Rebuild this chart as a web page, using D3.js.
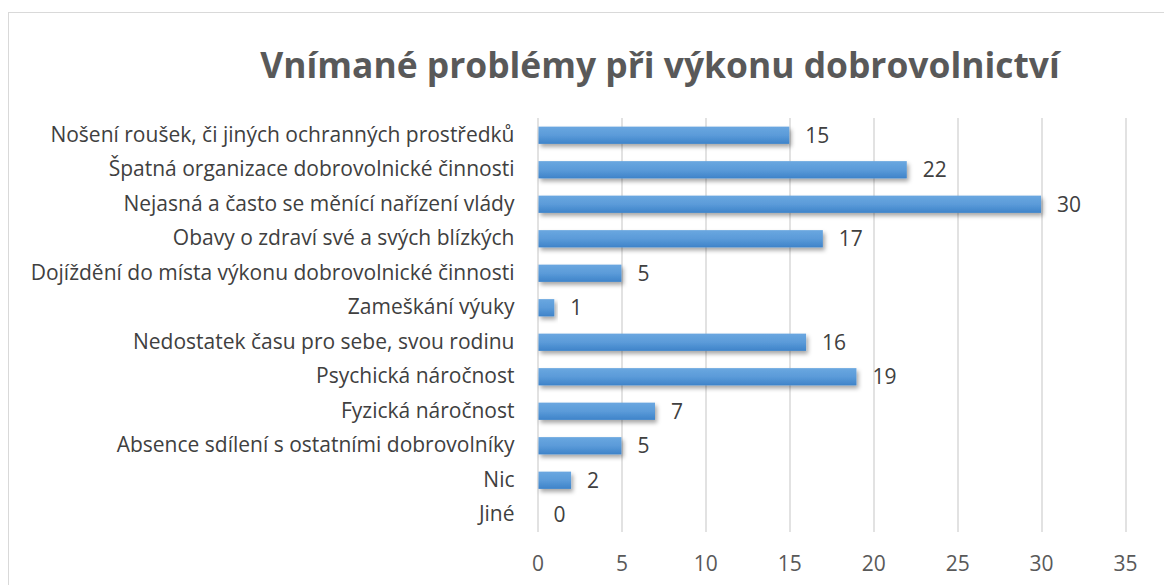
<!DOCTYPE html>
<html>
<head>
<meta charset="utf-8">
<script src="https://cdn.jsdelivr.net/npm/d3@7"></script>
<style>
  body { margin: 0; background: #fff; }
  text { font-family: "Open Sans", sans-serif; fill: #404040; }
</style>
</head>
<body>
<div id="chart"></div>
<script>
var categories = [
    "Nošení roušek, či jiných ochranných prostředků",
    "Špatná organizace dobrovolnické činnosti",
    "Nejasná a často se měnící nařízení vlády",
    "Obavy o zdraví své a svých blízkých",
    "Dojíždění do místa výkonu dobrovolnické činnosti",
    "Zameškání výuky",
    "Nedostatek času pro sebe, svou rodinu",
    "Psychická náročnost",
    "Fyzická náročnost",
    "Absence sdílení s ostatními dobrovolníky",
    "Nic",
    "Jiné"
];
var values = [15, 22, 30, 17, 5, 1, 16, 19, 7, 5, 2, 0];
var xTicks = [0, 5, 10, 15, 20, 25, 30, 35];
var title = "Vnímané problémy při výkonu dobrovolnictví";

var W = 1164, H = 585;
var margin = { top: 118, right: 39, bottom: 53, left: 537.5 },
    width = W - margin.left - margin.right,
    height = H - margin.top - margin.bottom;

var svg = d3.select("#chart").append("svg")
    .attr("width", W)
    .attr("height", H);

var defs = svg.append("defs");
var grad = defs.append("linearGradient")
    .attr("id", "barGrad")
    .attr("x1", 0).attr("y1", 0).attr("x2", 0).attr("y2", 1);
grad.append("stop").attr("offset", "0%").attr("stop-color", "#6aa7e0");
grad.append("stop").attr("offset", "50%").attr("stop-color", "#5b9bd9");
grad.append("stop").attr("offset", "100%").attr("stop-color", "#3e83c9");

var shadow = defs.append("filter")
    .attr("id", "shadow")
    .attr("x", "-10%").attr("y", "-30%")
    .attr("width", "130%").attr("height", "190%");
shadow.append("feDropShadow")
    .attr("dx", 2).attr("dy", 3)
    .attr("stdDeviation", 2.2)
    .attr("flood-color", "#000")
    .attr("flood-opacity", 0.35);

// chart frame
svg.append("rect")
    .attr("x", 8.5).attr("y", 12.5)
    .attr("width", W + 10).attr("height", H + 10)
    .attr("fill", "none")
    .attr("stroke", "#d9d9d9");

svg.append("text")
    .attr("x", 660)
    .attr("y", 78)
    .attr("text-anchor", "middle")
    .attr("font-size", 35.4)
    .attr("font-weight", "bold")
    .style("fill", "#595959")
    .text(title);

var g = svg.append("g")
    .attr("transform", "translate(" + margin.left + "," + margin.top + ")");

var x = d3.scaleLinear().domain([0, 35]).range([0, width]);
var y = d3.scaleBand().domain(categories).range([0, height]).paddingInner(0.5).paddingOuter(0.25);

// gridlines
g.append("g")
    .selectAll("line")
    .data(xTicks)
    .enter().append("line")
    .attr("x1", function (d) { return Math.round(x(d)) + 0.5; })
    .attr("x2", function (d) { return Math.round(x(d)) + 0.5; })
    .attr("y1", 0)
    .attr("y2", height)
    .attr("stroke", "#d9d9d9")
    .attr("stroke-width", 1.5);

// x axis labels
var xAxis = g.append("g")
    .attr("transform", "translate(0," + height + ")")
    .call(d3.axisBottom(x).tickValues(xTicks).tickSize(0).tickPadding(24));
xAxis.select(".domain").remove();
xAxis.selectAll("text")
    .style("font-size", "21px")
    .style("font-family", "'Open Sans', sans-serif")
    .style("fill", "#595959");

// y axis labels
var yAxis = g.append("g")
    .attr("transform", "translate(-23,0)")
    .call(d3.axisLeft(y).tickSize(0).tickPadding(0));
yAxis.select(".domain").remove();
yAxis.selectAll("text")
    .style("font-size", "21px")
    .style("font-family", "'Open Sans', sans-serif")
    .style("fill", "#404040");

// bars
g.append("g")
    .selectAll("rect")
    .data(values.map(function (v, i) { return { k: categories[i], v: v }; }).filter(function (d) { return d.v > 0; }))
    .enter().append("rect")
    .attr("x", x(0) + 1)
    .attr("y", function (d) { return y(d.k); })
    .attr("width", function (d) { return x(d.v) - x(0) - 1; })
    .attr("height", y.bandwidth())
    .attr("fill", "url(#barGrad)")
    .attr("filter", "url(#shadow)");

// value labels
g.append("g")
    .selectAll("text")
    .data(values.map(function (v, i) { return { k: categories[i], v: v }; }))
    .enter().append("text")
    .attr("x", function (d) { return x(d.v) + 16; })
    .attr("y", function (d) { return y(d.k) + y.bandwidth() / 2; })
    .attr("dy", "0.35em")
    .style("font-size", "21px")
    .text(function (d) { return d.v; });
</script>
</body>
</html>
